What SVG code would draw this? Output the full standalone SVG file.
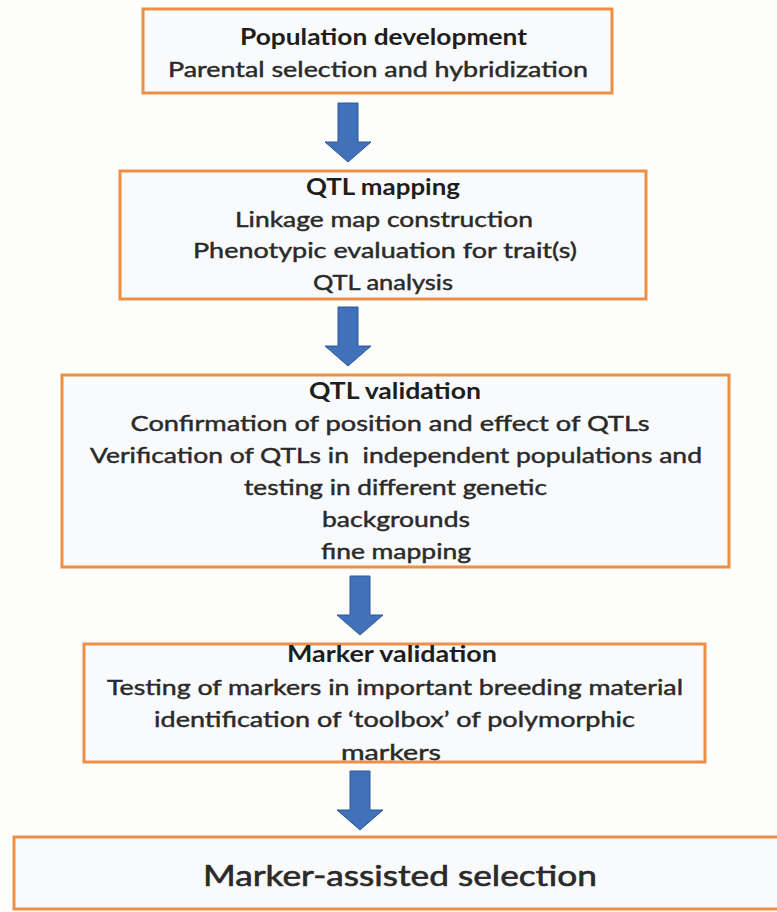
<svg xmlns="http://www.w3.org/2000/svg" width="777" height="912" viewBox="0 0 777 912">
<defs>
<style>
.bg{fill:#fdfdfc}
.box{fill:#f9fafb;stroke:#ef8f45;stroke-width:3}
.t{font-family:Lato,"Open Sans","Liberation Sans",sans-serif;font-size:22px;fill:#2a2a2a;stroke:#2a2a2a;stroke-width:0.45;text-anchor:middle}
.b{font-weight:bold;fill:#1e1e1e;stroke:none}
.big{font-size:29px;stroke-width:0.6}
.arrow{fill:#4171b9;stroke:#30579a;stroke-width:1}
</style>
<path id="arr" d="M-10,0 H10 V39 H23 L0,59 L-23,39 H-10 Z"/>
</defs>
<rect class="bg" x="0" y="0" width="777" height="912"/>

<g id="connectors">
<use href="#arr" class="arrow" transform="translate(348,103)"/>
<use href="#arr" class="arrow" transform="translate(348,307)"/>
<use href="#arr" class="arrow" transform="translate(360,576)"/>
<use href="#arr" class="arrow" transform="translate(360,771)"/>
</g>

<g id="population-development">
<rect class="box" x="143" y="9" width="469" height="84"/>
<text class="t b" x="383.5" y="45" textLength="287" lengthAdjust="spacingAndGlyphs">Population development</text>
<text class="t" x="378" y="77" textLength="420" lengthAdjust="spacingAndGlyphs">Parental selection and hybridization</text>
</g>

<g id="qtl-mapping">
<rect class="box" x="120" y="171" width="526" height="128"/>
<text class="t b" x="383" y="195" textLength="154" lengthAdjust="spacingAndGlyphs">QTL mapping</text>
<text class="t" x="384" y="227" textLength="298" lengthAdjust="spacingAndGlyphs">Linkage map construction</text>
<text class="t" x="385" y="258" textLength="384" lengthAdjust="spacingAndGlyphs">Phenotypic evaluation for trait(s)</text>
<text class="t" x="383" y="290" textLength="140" lengthAdjust="spacingAndGlyphs">QTL analysis</text>
</g>

<g id="qtl-validation">
<rect class="box" x="62" y="375" width="667" height="192"/>
<text class="t b" x="395" y="399" textLength="172" lengthAdjust="spacingAndGlyphs">QTL validation</text>
<text class="t" x="390" y="431" textLength="519" lengthAdjust="spacingAndGlyphs">Confirmation of position and effect of QTLs</text>
<text class="t" x="396" y="463" textLength="612" lengthAdjust="spacingAndGlyphs" xml:space="preserve">Verification of QTLs in  independent populations and</text>
<text class="t" x="395.5" y="495" textLength="303" lengthAdjust="spacingAndGlyphs">testing in different genetic</text>
<text class="t" x="396" y="527" textLength="148" lengthAdjust="spacingAndGlyphs">backgrounds</text>
<text class="t" x="396" y="559" textLength="150" lengthAdjust="spacingAndGlyphs">fine mapping</text>
</g>

<g id="marker-validation">
<rect class="box" x="84" y="644" width="621" height="118"/>
<text class="t b" x="392" y="662" textLength="210" lengthAdjust="spacingAndGlyphs">Marker validation</text>
<text class="t" x="395" y="695" textLength="576" lengthAdjust="spacingAndGlyphs">Testing of markers in important breeding material</text>
<text class="t" x="394.5" y="727" textLength="481" lengthAdjust="spacingAndGlyphs">identification of ‘toolbox’ of polymorphic</text>
<text class="t" x="391" y="760" textLength="100" lengthAdjust="spacingAndGlyphs">markers</text>
</g>

<g id="marker-assisted-selection">
<rect class="box" x="14" y="837" width="770" height="72"/>
<text class="t big" x="400" y="886" textLength="394" lengthAdjust="spacingAndGlyphs">Marker-assisted selection</text>
</g>
</svg>
